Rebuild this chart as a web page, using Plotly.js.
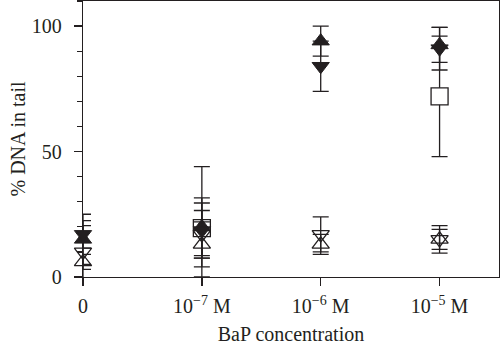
<!DOCTYPE html>
<html>
<head>
<meta charset="utf-8">
<script src="https://cdn.plot.ly/plotly-3.0.1.min.js"></script>
<style>html,body{margin:0;padding:0;background:#fff;}#chart{width:500px;height:354px;}</style>
</head>
<body>
<div id="chart"></div>
<script>
// Categories (x positions 0..3) and tick labels
const catPos = [0, 1, 2, 3];
const tickLabels = ["0", "10<sup>\u22127</sup> M", "10<sup>\u22126</sup> M", "10<sup>\u22125</sup> M"];

// Series values (% DNA in tail) and their error bars
const squareVals      = [null, 19.5, null, 72];
const squareErrPlus   = [0, 24.5, 0, 24];
const squareErrMinus  = [0, 19.5, 0, 24];

const openUpVals      = [6, 13, 13, 15];
const openUpErr       = [3, 9, 4, 5.5];

const openDownVals    = [10, 17, 17, 15];
const openDownErr     = [10.5, 9.5, 7, 4];

const filledUpVals    = [15, 20, 94, 92.5];
const filledUpErr     = [10, 11.5, 6, 7];

const filledDownVals  = [17, 18.5, 84, 91];
const filledDownErr   = [5.5, 11, 10, 8.5];

const FONT = "Liberation Serif, Times New Roman, serif";
const INK = "#231f20";

function errBar(plus, minus) {
  const e = {type: "data", array: plus, visible: true, color: INK, thickness: 1.3, width: 8};
  if (minus) { e.symmetric = false; e.arrayminus = minus; }
  return e;
}

const traces = [
  {x: catPos, y: squareVals, mode: "markers", type: "scatter", cliponaxis: false,
   marker: {symbol: "square", size: 17, color: "#ffffff", line: {color: INK, width: 1.3}},
   error_y: errBar(squareErrPlus, squareErrMinus)},
  {x: catPos, y: openUpVals, mode: "markers", type: "scatter", cliponaxis: false,
   marker: {symbol: "triangle-up-open", size: 15, color: INK, line: {color: INK, width: 1.3}},
   error_y: errBar(openUpErr)},
  {x: catPos, y: openDownVals, mode: "markers", type: "scatter", cliponaxis: false,
   marker: {symbol: "triangle-down-open", size: 15, color: INK, line: {color: INK, width: 1.3}},
   error_y: errBar(openDownErr)},
  {x: catPos, y: filledUpVals, mode: "markers", type: "scatter", cliponaxis: false,
   marker: {symbol: "triangle-up", size: 15, color: INK, line: {color: INK, width: 1}},
   error_y: errBar(filledUpErr)},
  {x: catPos, y: filledDownVals, mode: "markers", type: "scatter", cliponaxis: false,
   marker: {symbol: "triangle-down", size: 15, color: INK, line: {color: INK, width: 1}},
   error_y: errBar(filledDownErr)}
];

const layout = {
  width: 500, height: 354,
  margin: {l: 83, r: 1, t: 1, b: 77},
  paper_bgcolor: "#ffffff", plot_bgcolor: "#ffffff",
  showlegend: false,
  font: {family: FONT, color: INK, size: 20},
  xaxis: {
    range: [0, 3.5], tickvals: catPos, ticktext: tickLabels,
    ticks: "outside", ticklen: 8, tickwidth: 1.3, tickcolor: INK,
    showline: true, linecolor: INK, linewidth: 1.3, mirror: true,
    showgrid: false, zeroline: false,
    ticklabelstandoff: 3,
    tickfont: {family: FONT, size: 20, color: INK},
    title: {text: "BaP concentration", font: {family: FONT, size: 20, color: INK}, standoff: 10}
  },
  yaxis: {
    range: [0, 110], tickvals: [0, 50, 100],
    ticks: "outside", ticklen: 8, tickwidth: 1.3, tickcolor: INK,
    minor: {dtick: 10, ticks: "outside", ticklen: 5, tickwidth: 1.3, tickcolor: INK},
    showline: true, linecolor: INK, linewidth: 1.3, mirror: true,
    showgrid: false, zeroline: false,
    ticklabelstandoff: 8,
    tickfont: {family: FONT, size: 20, color: INK},
    title: {text: "% DNA in tail", font: {family: FONT, size: 20, color: INK}, standoff: 0}
  }
};

Plotly.newPlot("chart", traces, layout, {displayModeBar: false, staticPlot: true});
</script>
</body>
</html>
